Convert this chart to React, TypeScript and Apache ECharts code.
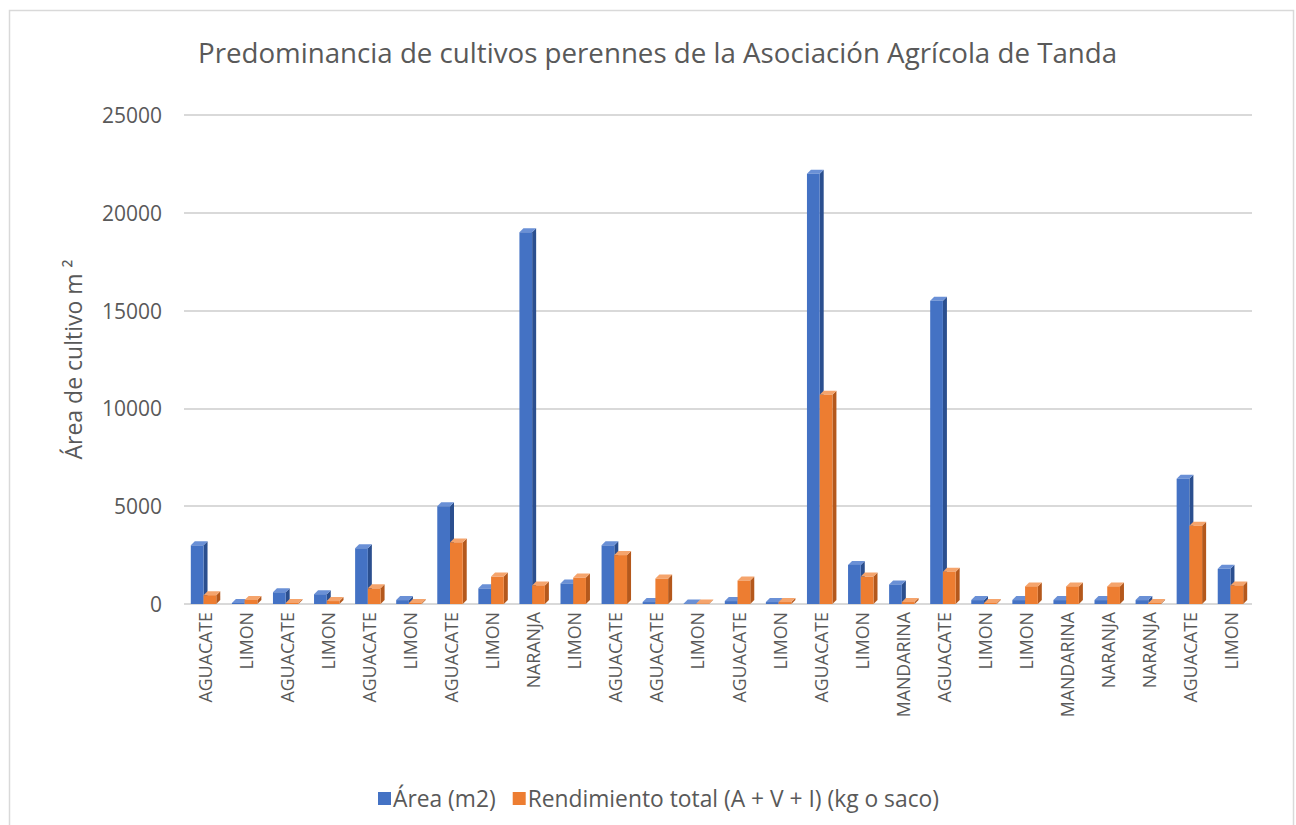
import React, { useEffect, useRef } from "react";
import * as echarts from "echarts";

const categories = [
  "AGUACATE", "LIMON", "AGUACATE", "LIMON", "AGUACATE", "LIMON", "AGUACATE", "LIMON",
  "NARANJA", "LIMON", "AGUACATE", "AGUACATE", "LIMON", "AGUACATE", "LIMON", "AGUACATE",
  "LIMON", "MANDARINA", "AGUACATE", "LIMON", "LIMON", "MANDARINA", "NARANJA", "NARANJA",
  "AGUACATE", "LIMON",
];
const areaValues = [
  3000, 50, 600, 500, 2850, 200, 5000, 800,
  19000, 1050, 3000, 100, 30, 150, 100, 22000,
  2000, 1000, 15500, 200, 200, 200, 200, 200,
  6400, 1800,
];
const rendimientoValues = [
  450, 200, 50, 150, 800, 50, 3150, 1400,
  950, 1350, 2500, 1300, 30, 1200, 100, 10700,
  1400, 100, 1650, 50, 900, 900, 900, 50,
  4000, 950,
];
const yTicks = [0, 5000, 10000, 15000, 20000, 25000];
const seriesNames = ["Área (m2)", "Rendimiento total (A + V + I) (kg o saco)"];

const palettes = [
  { front: "#4472C4", side: "#2B4F8F", top: "#6A90D6" },
  { front: "#ED7D31", side: "#B4581C", top: "#F5A46C" },
];

function makeRender(s: number) {
  return (params: any, api: any) => {
    const i = api.value(0);
    const v = api.value(1);
    const top = api.coord([i, v]);
    const base = api.coord([i, 0]);
    const band = api.size([1, 0])[0];
    const w = band * 0.31;
    const d = 4;
    const x0 = top[0] - w - 1 + s * w;
    const yT = top[1];
    const yB = base[1];
    const p = palettes[s];
    return {
      type: "group",
      children: [
        {
          type: "polygon",
          shape: { points: [[x0 + w, yT], [x0 + w + d, yT - d], [x0 + w + d, yB - d], [x0 + w, yB]] },
          style: { fill: p.side },
        },
        {
          type: "polygon",
          shape: { points: [[x0, yT], [x0 + w, yT], [x0 + w + d, yT - d], [x0 + d, yT - d]] },
          style: { fill: p.top },
        },
        {
          type: "rect",
          shape: { x: x0, y: yT, width: w, height: Math.max(yB - yT, 0) },
          style: { fill: p.front },
        },
      ],
    };
  };
}

export default function App() {
  const ref = useRef<HTMLDivElement>(null);
  useEffect(() => {
    document.body.style.margin = "0";
    if (!ref.current) return;
    const chart = echarts.init(ref.current, undefined, { renderer: "svg" });
    const font = "'Open Sans', sans-serif";
    chart.setOption({
      animation: false,
      backgroundColor: "#ffffff",
      textStyle: { fontFamily: font },
      title: {
        text: "Predominancia de cultivos perennes de la Asociación Agrícola de Tanda",
        left: 193,
        top: 33,
        textStyle: { fontFamily: font, fontSize: 27.7, fontWeight: "normal", color: "#595959" },
      },
      graphic: [
        {
          type: "rect",
          shape: { x: 9.5, y: 10.5, width: 1284, height: 840 },
          style: { fill: "none", stroke: "#D9D9D9", lineWidth: 1.5 },
          silent: true,
          z: -1,
        },
      ],
      legend: {
        top: 782,
        left: 373,
        itemWidth: 13,
        itemHeight: 13,
        itemGap: 17,
        icon: "rect",
        textStyle: { fontFamily: font, fontSize: 22.8, color: "#595959", padding: [0, 0, 0, -3] },
        data: [
          { name: seriesNames[0], itemStyle: { color: palettes[0].front } },
          { name: seriesNames[1], itemStyle: { color: palettes[1].front } },
        ],
      },
      grid: { left: 184, right: 44, top: 115, bottom: 221 },
      xAxis: {
        type: "category",
        data: categories,
        axisLine: { show: false },
        axisTick: { show: false },
        axisLabel: {
          rotate: 90,
          interval: 0,
          fontFamily: font,
          fontSize: 17.8,
          color: "#595959",
          margin: 8,
        },
      },
      yAxis: {
        type: "value",
        min: 0,
        max: 25000,
        interval: 5000,
        name: "Área de cultivo m ²",
        nameLocation: "middle",
        nameGap: 100,
        nameTextStyle: { fontFamily: font, fontSize: 23, color: "#595959" },
        axisLine: { show: false },
        axisTick: { show: false },
        axisLabel: {
          fontFamily: font,
          fontSize: 21,
          color: "#595959",
          margin: 22,
          formatter: (v: number) => (yTicks.includes(v) ? String(v) : ""),
        },
        splitLine: { lineStyle: { color: "#D9D9D9", width: 2 } },
      },
      series: [0, 1].map((s) => ({
        type: "custom",
        name: seriesNames[s],
        itemStyle: { color: palettes[s].front },
        renderItem: makeRender(s),
        encode: { x: 0, y: 1 },
        data: (s === 0 ? areaValues : rendimientoValues).map((v, i) => [i, v]),
      })),
    });
    return () => chart.dispose();
  }, []);
  return <div ref={ref} style={{ width: 1296, height: 825 }} />;
}
